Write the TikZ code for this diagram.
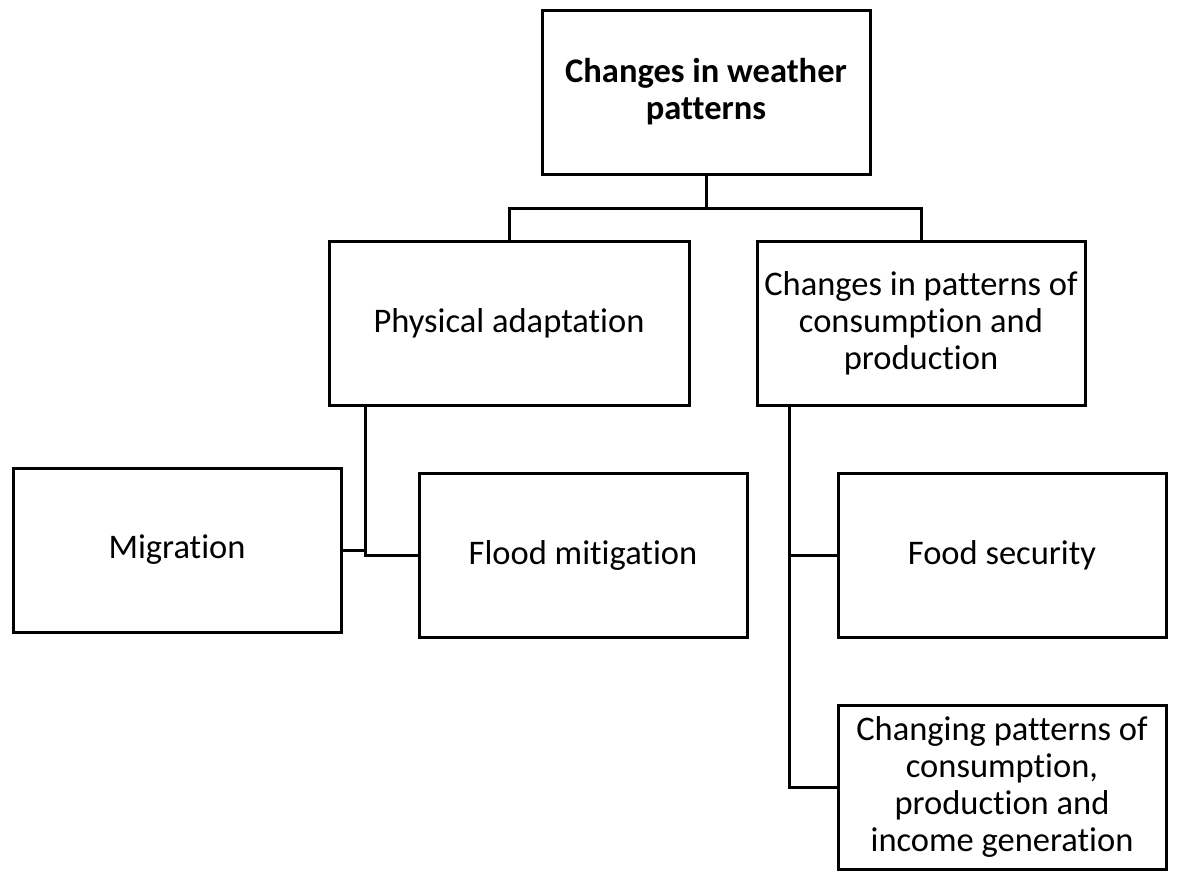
\documentclass[tikz,border=0pt]{standalone}
\usepackage{fontspec}
\setmainfont[Ligatures=NoCommon]{Carlito}
\usetikzlibrary{calc, positioning}

\begin{document}
\begin{tikzpicture}[x=1pt, y=-1pt,
    box/.style={draw, line width=3pt, minimum width=328pt, minimum height=164pt, align=center, inner sep=0pt,
      font=\fontsize{34.5}{37}\selectfont},
    link/.style={line width=3pt}]
      \useasboundingbox (0,0) rectangle (1181,884);

      \node[box, font=\fontsize{34.5}{37}\selectfont\bfseries] (Weather) at (706,92) {Changes in weather\\patterns};
      \node[box, minimum width=360pt] (Physical) at (509,323) {Physical adaptation};
      \node[box] (Consume) at (921,323) {Changes in patterns of\\consumption and\\production};
      \node[box] (Migration) at (177,550) {Migration};
      \node[box] (Flood) at (583,555) {Flood mitigation};
      \node[box] (Food) at (1002,555) {Food security};
      \node[box] (Income) at (1002,787) {Changing patterns of\\consumption,\\production and\\income generation};

      \coordinate (Split) at (706,208);
      \draw[link] (Weather.south) -- (Split);
      \draw[link] (Physical.north) |- (Split) -| (Consume.north);

      \coordinate (PhysStem) at ($(Physical.south west)+(38,0)$);
      \draw[link] (PhysStem) |- (Flood.west);
      \draw[link] (Migration.east) -- (Migration.east -| PhysStem);

      \coordinate (ConsStem) at ($(Consume.south west)+(34,0)$);
      \draw[link] (ConsStem) |- (Income.west);
      \draw[link] (Food.west) -- (Food.west -| ConsStem);
\end{tikzpicture}
\end{document}
